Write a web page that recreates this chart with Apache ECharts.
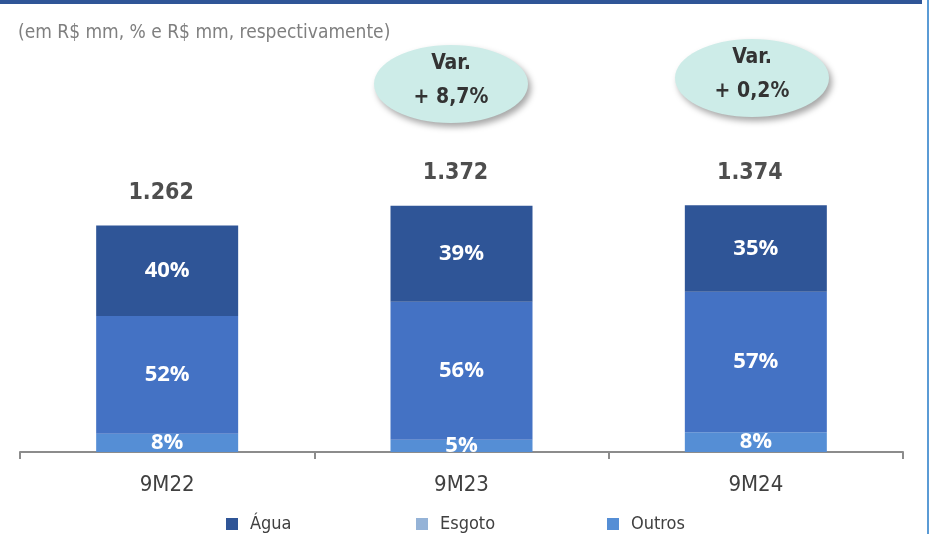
<!DOCTYPE html>
<html>
<head>
<meta charset="utf-8">
<script src="https://cdn.jsdelivr.net/npm/echarts@6/dist/echarts.min.js"></script>
<style>
  html, body { margin: 0; padding: 0; background: #fff; }
  #chart { width: 933px; height: 534px; }
</style>
</head>
<body>
<div id="chart"></div>
<script>
// valores
const periods = ['9M22', '9M23', '9M24']
const totals = [1262, 1372, 1374]
const aguaPct = [40, 39, 35]
const esgotoPct = [52, 56, 57]
const outrosPct = [8, 5, 8]
const varLabels = ['+ 8,7%', '+ 0,2%']
const legendNames = ['Água', 'Esgoto', 'Outros']

const NARROW = "'Liberation Sans Narrow', 'Arial Narrow', 'DejaVu Sans Condensed', sans-serif"
const C_AGUA = '#2f5597'
const C_ESGOTO = '#4472c4'
const C_ESGOTO_LEG = '#95b3d7'
const C_OUTROS = '#558ed5'
const legendColors = [C_AGUA, C_ESGOTO_LEG, C_OUTROS]
const legendLeft = [221, 411, 602]

// segment value = total * share
const seg = pct => pct.map((p, i) => +(totals[i] * p / 100).toFixed(1))

const pctLabel = pct => ({
  show: true,
  position: 'inside',
  color: '#fff',
  fontFamily: "'Open Sans', sans-serif",
  fontWeight: 'bold',
  fontSize: 22,
  formatter: p => pct[p.dataIndex] + '%'
})

function bubble(cx, cy, txt) {
  return {
    type: 'group',
    children: [
      {
        type: 'ellipse',
        shape: { cx: cx, cy: cy, rx: 77, ry: 39 },
        style: {
          fill: '#cdece8',
          shadowBlur: 6,
          shadowOffsetX: 3,
          shadowOffsetY: 4,
          shadowColor: 'rgba(0,0,0,0.35)'
        }
      },
      {
        type: 'text',
        x: cx, y: cy - 3,
        style: {
          text: 'Var.\n' + txt,
          align: 'center',
          verticalAlign: 'middle',
          fill: '#333',
          font: 'bold 21px ' + NARROW,
          lineHeight: 34
        }
      }
    ]
  }
}

const myChart = echarts.init(document.getElementById('chart'))
myChart.setOption({
  animation: false,
  title: {
    text: '(em R$ mm, % e R$ mm, respectivamente)',
    left: 13,
    top: 19,
    textStyle: { color: '#7f7f7f', fontSize: 19, fontWeight: 'normal', fontFamily: NARROW }
  },
  grid: { left: 20, right: 30, top: 93, bottom: 82 },
  legend: legendNames.map((n, i) => ({
    left: legendLeft[i],
    top: 510,
    itemWidth: 12,
    itemHeight: 12,
    icon: 'rect',
    textStyle: { color: '#404040', fontSize: 18, fontFamily: NARROW, padding: [0, 0, 0, 7] },
    data: [{ name: n, itemStyle: { color: legendColors[i] } }]
  })),
  xAxis: {
    type: 'category',
    data: periods,
    axisLine: { lineStyle: { color: '#8c8c8c', width: 2 } },
    axisTick: { show: true, length: 7, lineStyle: { color: '#8c8c8c', width: 2 } },
    axisLabel: { color: '#404040', fontSize: 22, fontFamily: NARROW, margin: 22 }
  },
  yAxis: { type: 'value', min: 0, max: 2000, show: false, splitLine: { show: false } },
  series: [
    {
      name: 'Outros', type: 'bar', stack: 'receita', barWidth: 142,
      itemStyle: { color: C_OUTROS },
      label: pctLabel(outrosPct),
      data: seg(outrosPct)
    },
    {
      name: 'Esgoto', type: 'bar', stack: 'receita',
      itemStyle: { color: C_ESGOTO },
      label: pctLabel(esgotoPct),
      data: seg(esgotoPct)
    },
    {
      name: 'Água', type: 'bar', stack: 'receita',
      itemStyle: { color: C_AGUA },
      label: pctLabel(aguaPct),
      data: seg(aguaPct)
    },
    {
      name: 'Total', type: 'scatter', symbolSize: 0, silent: true,
      label: {
        show: true, position: 'top', distance: 21, offset: [-6, 0],
        color: '#222', fontSize: 23, fontWeight: 'bold', fontFamily: NARROW,
        formatter: p => totals[p.dataIndex].toLocaleString('pt-BR')
      },
      data: totals
    }
  ],
  graphic: [
    { type: 'rect', shape: { x: 0, y: 0, width: 922, height: 4 }, style: { fill: '#2f5597' } },
    { type: 'rect', shape: { x: 927, y: 0, width: 2, height: 534 }, style: { fill: '#5b9bd5' } },
    bubble(451, 84, varLabels[0]),
    bubble(752, 78, varLabels[1])
  ]
})
</script>
</body>
</html>
